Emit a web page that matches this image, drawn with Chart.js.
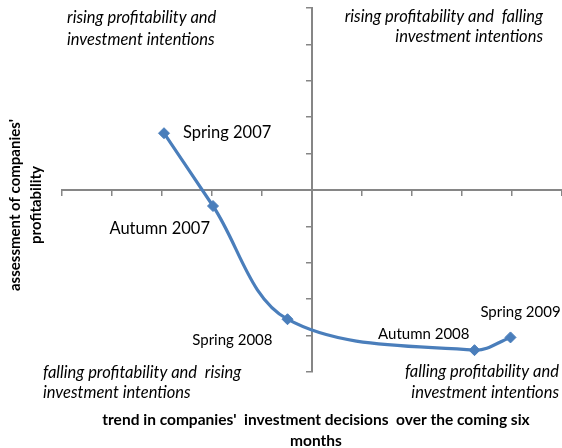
<!DOCTYPE html>
<html>
<head>
<meta charset="utf-8">
<script src="https://cdn.jsdelivr.net/npm/chart.js@4.4.1/dist/chart.umd.min.js"></script>
<style>
  html, body { margin: 0; padding: 0; background: #fff; overflow: hidden; }
  canvas { display: block; }
</style>
</head>
<body>
<canvas id="grafico" width="562" height="448"></canvas>
<script>
// dados =====================================================================

const periods = ["Spring 2007", "Autumn 2007", "Spring 2008", "Autumn 2008", "Spring 2009"];
const investment = [-2.96, -1.98, -0.49, 3.25, 3.97];
const profitability = [1.56, -0.44, -3.55, -4.4, -4.05];
const axisTicks = [-5, 5, 1]; // min, max, step

const quadrantNotes = [
  ["rising profitability and", "investment intentions"],
  ["rising profitability and  falling", "investment intentions"],
  ["falling profitability and  rising", "investment intentions"],
  ["falling profitability and", "investment intentions"],
];
const xTitle = ["trend in companies'  investment decisions  over the coming six", "months"];
const yTitle = ["assessment of companies'", "profitability"];

// estilo ====================================================================

const blue = "#4a7ebb";
const grey = "#868686";
const fontFam = "Lato, 'Liberation Sans', sans-serif";

// where each period label sits relative to its marker: dx, dy, align, size
const labelPlace = [
  [19, -1, "left", 16.5],
  [-3, 23, "right", 16.5],
  [-15, 21, "right", 15],
  [-5, -16, "right", 15],
  [10, -25, "center", 15],
];

const points = investment.map((x, i) => ({ x: x, y: profitability[i] }));

const textPlugin = {
  id: "textos",
  afterDraw(chart) {
    const ctx = chart.ctx;
    ctx.save();
    ctx.fillStyle = "#000";
    ctx.textBaseline = "middle";

    // period labels
    const meta = chart.getDatasetMeta(0);
    periods.forEach((p, i) => {
      const el = meta.data[i];
      const pl = labelPlace[i];
      ctx.font = pl[3] + "px " + fontFam;
      ctx.textAlign = pl[2];
      ctx.fillText(p, el.x + pl[0], el.y + pl[1]);
    });

    // quadrant notes
    ctx.font = "italic 16.5px " + fontFam;
    const notePos = [
      [67, 18, 40, "left"],
      [543, 17, 37, "right"],
      [43, 373, 393, "left"],
      [559, 372, 393, "right"],
    ];
    quadrantNotes.forEach((lines, i) => {
      const np = notePos[i];
      ctx.textAlign = np[3];
      ctx.fillText(lines[0], np[0], np[1]);
      ctx.fillText(lines[1], np[0], np[2]);
    });

    // axis titles
    ctx.font = "bold 15.5px " + fontFam;
    ctx.textAlign = "center";
    ctx.fillText(xTitle[0], 316, 420);
    ctx.fillText(xTitle[1], 316, 441);

    ctx.font = "bold 15px " + fontFam;
    ctx.translate(0, 205);
    ctx.rotate(-Math.PI / 2);
    ctx.fillText(yTitle[0], 0, 15);
    ctx.fillText(yTitle[1], 0, 36);
    ctx.restore();
  },
};

const config = {
  type: "scatter",
  data: {
    datasets: [
      {
        label: "profitability vs investment",
        data: points,
        showLine: true,
        borderColor: blue,
        backgroundColor: blue,
        borderWidth: 3.2,
        tension: 0.35,
        pointStyle: "rectRot",
        pointRadius: 5.5,
        pointBorderWidth: 1,
        pointBorderColor: blue,
        pointBackgroundColor: blue,
      },
    ],
  },
  options: {
    responsive: false,
    animation: false,
    events: [],
    layout: { autoPadding: false, padding: { left: 62, right: 0, top: 8, bottom: 76 } },
    plugins: {
      legend: { display: false },
      tooltip: { enabled: false },
    },
    scales: {
      x: {
        type: "linear",
        position: { y: 0 },
        min: axisTicks[0],
        max: axisTicks[1],
        ticks: { display: false, stepSize: axisTicks[2] },
        grid: { drawOnChartArea: false, drawTicks: true, tickLength: 5, color: grey, lineWidth: 1.5 },
        border: { display: true, color: grey, width: 2 },
      },
      y: {
        type: "linear",
        position: { x: 0 },
        min: axisTicks[0],
        max: axisTicks[1],
        ticks: { display: false, stepSize: axisTicks[2] },
        grid: { drawOnChartArea: false, drawTicks: true, tickLength: 5, color: grey, lineWidth: 1.5 },
        border: { display: true, color: grey, width: 2 },
      },
    },
  },
  plugins: [textPlugin],
};

const grafico = new Chart(document.getElementById("grafico"), config);
</script>
</body>
</html>
